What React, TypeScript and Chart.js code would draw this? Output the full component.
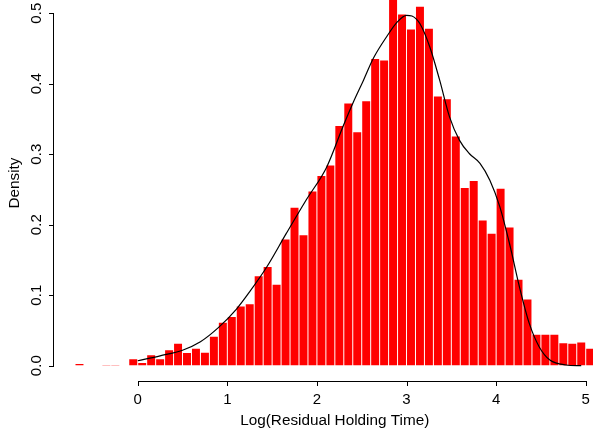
import React, { useEffect, useRef } from "react";
import { Chart, registerables } from "chart.js";

Chart.register(...registerables);

// Histogram bins (midpoints, width 0.1)
const binMids = [
  -0.65, -0.55, -0.45, -0.35, -0.25, -0.15, -0.05, 0.05, 0.15, 0.25,
  0.35, 0.45, 0.55, 0.65, 0.75, 0.85, 0.95, 1.05, 1.15, 1.25,
  1.35, 1.45, 1.55, 1.65, 1.75, 1.85, 1.95, 2.05, 2.15, 2.25,
  2.35, 2.45, 2.55, 2.65, 2.75, 2.85, 2.95, 3.05, 3.15, 3.25,
  3.35, 3.45, 3.55, 3.65, 3.75, 3.85, 3.95, 4.05, 4.15, 4.25,
  4.35, 4.45, 4.55, 4.65, 4.75, 4.85, 4.95, 5.05,
];
const binDensity = [
  0.0025, 0, 0, 0.001, 0.001, 0, 0.009, 0.004, 0.0147, 0.009,
  0.022, 0.031, 0.018, 0.024, 0.0185, 0.041, 0.061, 0.069, 0.084, 0.087,
  0.127, 0.14, 0.115, 0.179, 0.224, 0.185, 0.247, 0.269, 0.284, 0.34,
  0.372, 0.331, 0.375, 0.435, 0.433, 0.535, 0.498, 0.477, 0.509, 0.478,
  0.382, 0.378, 0.325, 0.252, 0.262, 0.206, 0.187, 0.251, 0.196, 0.122,
  0.094, 0.044, 0.044, 0.044, 0.032, 0.031, 0.033, 0.024,
];

// Kernel density curve
const curveX = [
  0.0, 0.25, 0.5, 0.7, 0.9, 1.1, 1.25, 1.44, 1.66, 1.88,
  2.11, 2.29, 2.4, 2.52, 2.63, 2.78, 2.9, 3.0, 3.06, 3.15,
  3.26, 3.37, 3.48, 3.59, 3.7, 3.82, 3.93, 4.04, 4.15, 4.26,
  4.37, 4.48, 4.6, 4.78, 4.95,
];
const curveY = [
  0.007, 0.014, 0.022, 0.034, 0.054, 0.08, 0.105, 0.14, 0.188, 0.235,
  0.282, 0.339, 0.372, 0.405, 0.436, 0.467, 0.488, 0.497, 0.496, 0.485,
  0.452, 0.405, 0.353, 0.32, 0.301, 0.287, 0.263, 0.226, 0.173, 0.112,
  0.06, 0.027, 0.008, 0.001, 0.0,
];

const xTicks = [0, 1, 2, 3, 4, 5];
const yTicks = [0, 0.1, 0.2, 0.3, 0.4, 0.5];
const xTitle = "Log(Residual Holding Time)";
const yTitle = "Density";

const FONT = "'Liberation Sans', Arial, Helvetica, sans-serif";

// R-style axes: lines span only first..last tick, ticks point outward
const rAxesPlugin = {
  id: "rAxes",
  afterDraw(chart: any) {
    const ctx = chart.ctx;
    const area = chart.chartArea;
    const xs = chart.scales["x"];
    const ys = chart.scales["y"];
    ctx.save();
    ctx.fillStyle = "#000000";
    const yb = Math.round(area.bottom);
    const xa = Math.round(xs.getPixelForValue(xTicks[0]));
    const xb = Math.round(xs.getPixelForValue(xTicks[xTicks.length - 1]));
    ctx.fillRect(xa, yb, xb - xa + 1, 1);
    xTicks.forEach((v) => {
      const px = Math.round(xs.getPixelForValue(v));
      ctx.fillRect(px, yb, 1, 5);
    });
    const xl = Math.floor(area.left);
    const ya = Math.round(ys.getPixelForValue(yTicks[yTicks.length - 1]));
    const y0 = Math.round(ys.getPixelForValue(yTicks[0]));
    ctx.fillRect(xl, ya, 1, y0 - ya + 1);
    yTicks.forEach((v) => {
      const py = Math.round(ys.getPixelForValue(v));
      ctx.fillRect(xl - 4, py, 5, 1);
    });
    ctx.restore();
  },
};

export default function App() {
  const ref = useRef<HTMLCanvasElement | null>(null);
  useEffect(() => {
    if (!ref.current) return;
    const font = { family: FONT, size: 15 };
    const titleFont = { family: FONT, size: 15.3 };
    const chart = new Chart(ref.current, {
      type: "bar",
      data: {
        datasets: [
          {
            type: "line",
            data: curveX.map((x, i) => ({ x, y: curveY[i] })),
            borderColor: "#000",
            borderWidth: 1.2,
            pointRadius: 0,
            cubicInterpolationMode: "monotone",
            fill: false,
            order: 0,
          } as any,
          {
            type: "bar",
            data: binMids.map((x, i) => ({ x, y: binDensity[i] })),
            backgroundColor: "#ff0000",
            borderWidth: 0,
            barPercentage: 0.89,
            categoryPercentage: 1,
            order: 1,
          } as any,
        ],
      },
      options: {
        animation: false,
        responsive: false,
        layout: { padding: 0, autoPadding: false },
        plugins: { legend: { display: false }, tooltip: { enabled: false } },
        scales: {
          x: {
            type: "linear",
            position: "bottom",
            min: -0.94,
            max: 5.338,
            offset: false,
            afterBuildTicks: (s: any) => {
              s.ticks = xTicks.map((v) => ({ value: v }));
            },
            afterFit: (s: any) => {
              s.height = 51;
              s.paddingLeft = 0;
              s.paddingRight = 0;
            },
            grid: {
              display: true,
              offset: false,
              drawOnChartArea: false,
              drawTicks: true,
              tickLength: 4,
              color: "rgba(0,0,0,0)",
            },
            border: { display: false },
            ticks: {
              font,
              color: "#000",
              padding: 6,
              maxRotation: 0,
              autoSkip: false,
              callback: (v: any) => String(v),
            },
            title: {
              display: true,
              text: xTitle,
              font: titleFont,
              color: "#000",
              padding: { top: 0, bottom: 2 },
            },
          },
          y: {
            type: "linear",
            position: "left",
            min: -0.0217,
            max: 0.54,
            afterBuildTicks: (s: any) => {
              s.ticks = yTicks.map((v) => ({ value: v }));
            },
            afterFit: (s: any) => {
              s.width = 53.5;
              s.paddingTop = 0;
              s.paddingBottom = 0;
            },
            grid: {
              display: true,
              offset: false,
              drawOnChartArea: false,
              drawTicks: true,
              tickLength: 4,
              color: "rgba(0,0,0,0)",
            },
            border: { display: false },
            ticks: {
              font,
              color: "#000",
              padding: 2,
              minRotation: 90,
              maxRotation: 90,
              crossAlign: "center",
              autoSkip: false,
              callback: (v: any) => Number(v).toFixed(1),
            },
            title: {
              display: true,
              text: yTitle,
              font: titleFont,
              color: "#000",
              padding: { top: 6, bottom: 0 },
            },
          },
        },
      } as any,
      plugins: [rAxesPlugin],
    });
    return () => chart.destroy();
  }, []);

  return (
    <div
      style={{
        position: "fixed",
        left: 0,
        top: 0,
        width: 593,
        height: 432,
        overflow: "hidden",
        background: "#fff",
      }}
    >
      <canvas
        ref={ref}
        width={616}
        height={447}
        style={{ position: "absolute", left: 0, top: -15, width: 616, height: 447 }}
      />
    </div>
  );
}
